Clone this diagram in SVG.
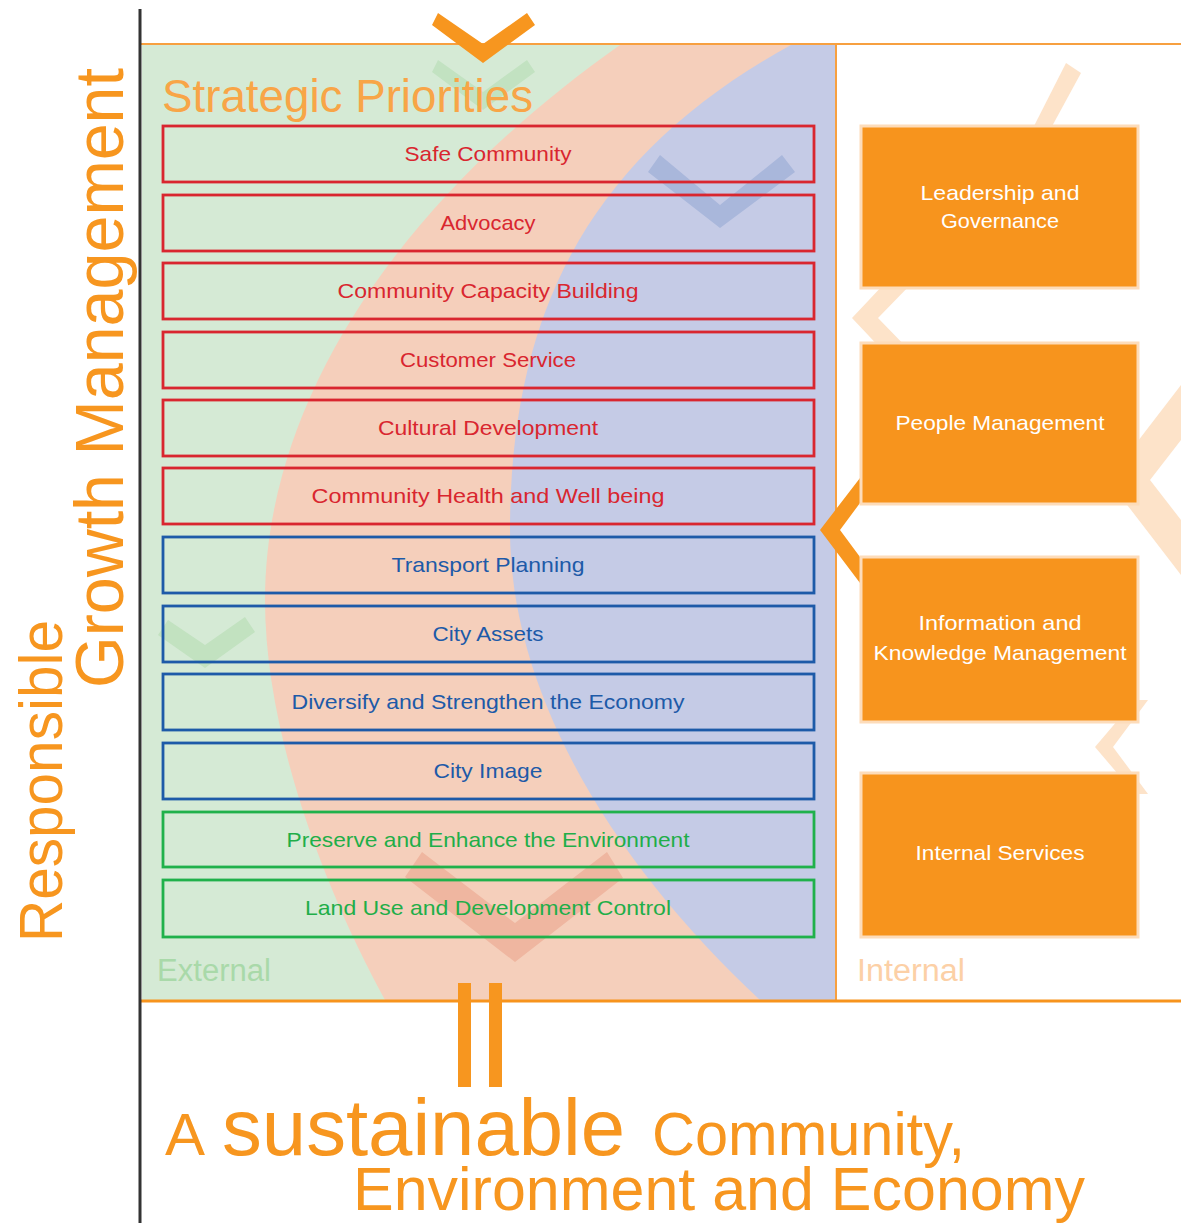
<svg xmlns="http://www.w3.org/2000/svg" width="1181" height="1223" viewBox="0 0 1181 1223">
<style>
.t{font-family:"Liberation Sans",Arial,sans-serif}
.box{fill:none;stroke-width:2.8}
.red{stroke:#d9262f}.blue{stroke:#1d5aa8}.green{stroke:#20b14b}
.tred{fill:#d9262f}.tblue{fill:#1d5aa8}.tgreen{fill:#1fae49}
.lbl{font-size:21px;text-anchor:middle}
.ibox{fill:#f7941d;stroke:#fddcba;stroke-width:3}
.itxt{fill:#ffffff;font-size:21px;text-anchor:middle}
.org{fill:#f7961f}
.faint{fill:#fde3c9}
</style>
<rect width="1181" height="1223" fill="#ffffff"/>
<g id="background">
<rect x="142" y="45" width="694" height="955" fill="#d5ead5"/>
<path d="M620,45 C400,200 265,400 265,600 C265,740 330,900 385,1000 L836,1000 L836,45 Z" fill="#f5cfbb"/>
<path d="M791,45 C600,150 510,300 510,530 C510,700 620,870 760,1000 L836,1000 L836,45 Z" fill="#c5cbe6"/>
<line x1="836" y1="44" x2="836" y2="1000" stroke="#f7a040" stroke-width="2"/>
<line x1="140" y1="44" x2="1181" y2="44" stroke="#f7a040" stroke-width="2"/>
<line x1="140" y1="1001" x2="1181" y2="1001" stroke="#f7941d" stroke-width="3"/>
<line x1="140" y1="9" x2="140" y2="1223" stroke="#333333" stroke-width="3"/>
</g>
<g id="chevrons">
<polygon points="432,72 483,110 535,72 527,60 483,92 438,60" fill="#c2e2c1"/>
<polygon points="648,172 720,228 795,172 782,155 720,205 660,155" fill="#a9b7db"/>
<polygon points="158,635 205,668 255,632 245,617 205,645 168,620" fill="#c2e2c0"/>
<polygon points="405,877 515,962 623,878 607,852 515,923 422,852" fill="#efb6a0"/>
<polygon points="1066,63 1081,73 1050,130 1032,130" class="faint"/>
<polygon points="852,318 885,283 912,283 878,318 912,353 885,353" class="faint"/>
<polygon points="1108,480 1181,385 1181,440 1150,480 1181,520 1181,575" class="faint"/>
<polygon points="1095,747 1135,700 1148,700 1113,747 1148,794 1135,794" class="faint"/>
<polygon points="432,25 483,63 535,25 527,13 483,44 438,13" class="org"/>
<polygon points="820,530 860,478 860,503 840,530 860,557 860,583" class="org"/>
<rect x="458" y="983" width="13" height="104" class="org"/>
<rect x="489" y="983" width="13" height="104" class="org"/>
</g>
<g id="titles" class="t">
<text x="162" y="112" font-size="47" fill="#f8a547" textLength="371" lengthAdjust="spacingAndGlyphs">Strategic Priorities</text>
<text x="157" y="981" font-size="31" fill="#a9d9a9" textLength="114" lengthAdjust="spacingAndGlyphs">External</text>
<text x="857" y="981" font-size="31" fill="#fcd0a6" textLength="108" lengthAdjust="spacingAndGlyphs">Internal</text>
<text transform="translate(62,942) rotate(-90)" font-size="62" fill="#f7961f" textLength="322" lengthAdjust="spacingAndGlyphs">Responsible</text>
<text transform="translate(123,688) rotate(-90)" font-size="68" fill="#f7961f" textLength="620" lengthAdjust="spacingAndGlyphs">Growth Management</text>
<text x="165" y="1155" font-size="60" fill="#f7961f">A</text>
<text x="222" y="1155" font-size="80" fill="#f7961f" textLength="403" lengthAdjust="spacingAndGlyphs">sustainable</text>
<text x="652" y="1155" font-size="62" fill="#f7961f" textLength="313" lengthAdjust="spacingAndGlyphs">Community,</text>
<text x="353" y="1210" font-size="62" fill="#f7961f" textLength="732" lengthAdjust="spacingAndGlyphs">Environment and Economy</text>
</g>
<g id="connectors"></g>
<g id="sp-safe-community"><rect x="163" y="126" width="651" height="56" class="box red"/><text x="488" y="161" class="t lbl tred" textLength="167" lengthAdjust="spacingAndGlyphs">Safe Community</text></g>
<g id="sp-advocacy"><rect x="163" y="195" width="651" height="56" class="box red"/><text x="488" y="230" class="t lbl tred" textLength="95" lengthAdjust="spacingAndGlyphs">Advocacy</text></g>
<g id="sp-capacity"><rect x="163" y="263" width="651" height="56" class="box red"/><text x="488" y="298" class="t lbl tred" textLength="301" lengthAdjust="spacingAndGlyphs">Community Capacity Building</text></g>
<g id="sp-customer"><rect x="163" y="332" width="651" height="56" class="box red"/><text x="488" y="367" class="t lbl tred" textLength="176" lengthAdjust="spacingAndGlyphs">Customer Service</text></g>
<g id="sp-cultural"><rect x="163" y="400" width="651" height="56" class="box red"/><text x="488" y="435" class="t lbl tred" textLength="220" lengthAdjust="spacingAndGlyphs">Cultural Development</text></g>
<g id="sp-health"><rect x="163" y="468" width="651" height="56" class="box red"/><text x="488" y="503" class="t lbl tred" textLength="353" lengthAdjust="spacingAndGlyphs">Community Health and Well being</text></g>
<g id="sp-transport"><rect x="163" y="537" width="651" height="56" class="box blue"/><text x="488" y="572" class="t lbl tblue" textLength="193" lengthAdjust="spacingAndGlyphs">Transport Planning</text></g>
<g id="sp-assets"><rect x="163" y="606" width="651" height="56" class="box blue"/><text x="488" y="641" class="t lbl tblue" textLength="111" lengthAdjust="spacingAndGlyphs">City Assets</text></g>
<g id="sp-economy"><rect x="163" y="674" width="651" height="56" class="box blue"/><text x="488" y="709" class="t lbl tblue" textLength="393" lengthAdjust="spacingAndGlyphs">Diversify and Strengthen the Economy</text></g>
<g id="sp-image"><rect x="163" y="743" width="651" height="56" class="box blue"/><text x="488" y="778" class="t lbl tblue" textLength="109" lengthAdjust="spacingAndGlyphs">City Image</text></g>
<g id="sp-environment"><rect x="163" y="812" width="651" height="55" class="box green"/><text x="488" y="847" class="t lbl tgreen" textLength="403" lengthAdjust="spacingAndGlyphs">Preserve and Enhance the Environment</text></g>
<g id="sp-landuse"><rect x="163" y="880" width="651" height="57" class="box green"/><text x="488" y="915" class="t lbl tgreen" textLength="366" lengthAdjust="spacingAndGlyphs">Land Use and Development Control</text></g>
<g id="int-leadership"><rect x="861" y="126" width="277" height="162" class="ibox"/><text x="1000" y="200" class="t itxt" textLength="159" lengthAdjust="spacingAndGlyphs">Leadership and</text><text x="1000" y="228" class="t itxt" textLength="118" lengthAdjust="spacingAndGlyphs">Governance</text></g>
<g id="int-people"><rect x="861" y="343" width="277" height="161" class="ibox"/><text x="1000" y="430" class="t itxt" textLength="209" lengthAdjust="spacingAndGlyphs">People Management</text></g>
<g id="int-information"><rect x="861" y="557" width="277" height="165" class="ibox"/><text x="1000" y="630" class="t itxt" textLength="163" lengthAdjust="spacingAndGlyphs">Information and</text><text x="1000" y="660" class="t itxt" textLength="253" lengthAdjust="spacingAndGlyphs">Knowledge Management</text></g>
<g id="int-services"><rect x="861" y="773" width="277" height="164" class="ibox"/><text x="1000" y="860" class="t itxt" textLength="169" lengthAdjust="spacingAndGlyphs">Internal Services</text></g>
</svg>
